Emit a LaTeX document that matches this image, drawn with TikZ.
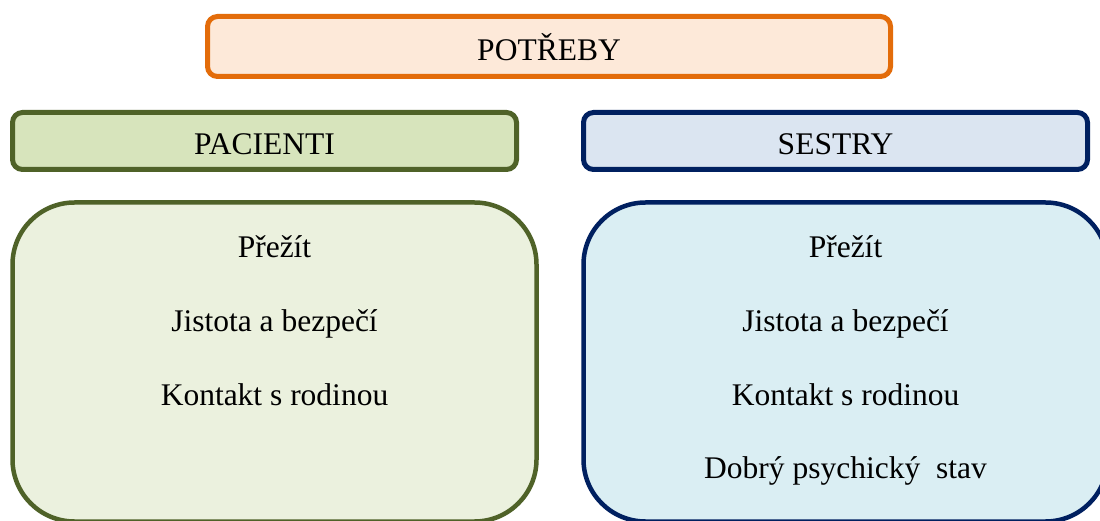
\documentclass[tikz,border=0pt]{standalone}
\usepackage{fontspec}
\setmainfont{Liberation Serif}
\definecolor{orangeline}{HTML}{E36C0A}
\definecolor{orangefill}{HTML}{FDE9D9}
\definecolor{greenline}{HTML}{4F6228}
\definecolor{greenhead}{HTML}{D7E4BC}
\definecolor{greenbody}{HTML}{EBF1DE}
\definecolor{navyline}{HTML}{002060}
\definecolor{bluehead}{HTML}{DBE5F1}
\definecolor{bluebody}{HTML}{DAEEF3}
\tikzset{
  headbox/.style={draw, line width=5pt, rounded corners=10pt, minimum width=504pt, minimum height=57pt, inner sep=0pt},
  bodybox/.style={draw, line width=4.5pt, rounded corners=62pt, minimum width=524pt, minimum height=319pt, inner sep=0pt},
  label/.style={anchor=base, inner sep=0pt, font=\fontsize{31.5}{36}\selectfont}
}
\begin{document}
\begin{tikzpicture}[x=1pt,y=-1pt]
\useasboundingbox (0,0) rectangle (1100,521);
\clip (0,0) rectangle (1100,521);
% top heading
\node[headbox, draw=orangeline, fill=orangefill, minimum width=683pt, minimum height=60pt] (needs) at (549,46.5) {};
\node[label] (needsT) at (549,61) {POTŘEBY};
% column headings
\node[headbox, draw=greenline, fill=greenhead] (patients) at (264.5,141) {};
\node[label] (patientsT) at (264.5,155) {PACIENTI};
\node[headbox, draw=navyline, fill=bluehead] (nurses) at (835.5,141) {};
\node[label] (nursesT) at (835.5,155) {SESTRY};
% lists of needs
\node[bodybox, draw=greenline, fill=greenbody] (plist) at (274.5,362) {};
\node[bodybox, draw=navyline, fill=bluebody] (nlist) at (845.5,362) {};
\node[label] (p1) at (274.5,258) {Přežít};
\node[label] (p2) at (274.5,331.5) {Jistota a bezpečí};
\node[label] (p3) at (274.5,405) {Kontakt s rodinou};
\node[label] (n1) at (845.5,258) {Přežít};
\node[label] (n2) at (845.5,331.5) {Jistota a bezpečí};
\node[label] (n3) at (845.5,405) {Kontakt s rodinou};
\node[label] (n4) at (845.5,478) {Dobrý psychický\ \ stav};
\end{tikzpicture}
\end{document}
